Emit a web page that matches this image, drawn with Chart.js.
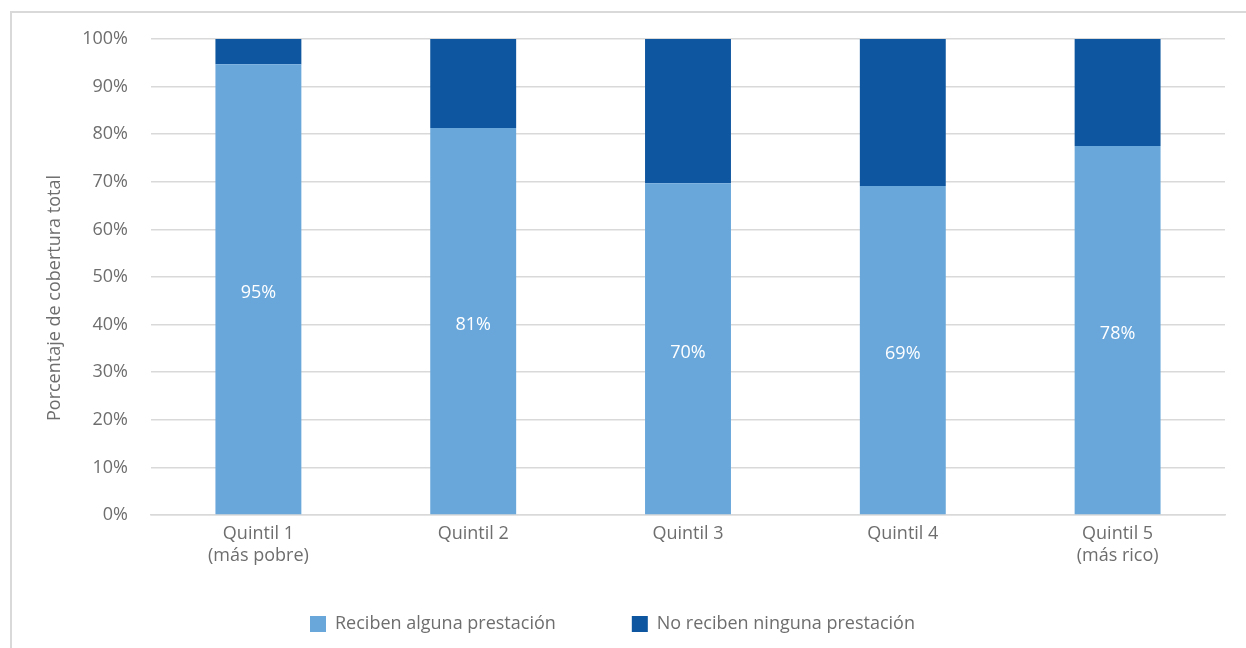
<!DOCTYPE html>
<html>
<head>
<meta charset="utf-8">
<script src="https://cdn.jsdelivr.net/npm/chart.js@4"></script>
<style>
  html, body { margin: 0; padding: 0; background: #fff; }
  #wrap { width: 1246px; height: 648px; position: relative; }
</style>
</head>
<body>
<div id="wrap"><canvas id="c" width="1246" height="648"></canvas></div>
<script>
// data
var categories = [['Quintil 1', '(más pobre)'], 'Quintil 2', 'Quintil 3', 'Quintil 4', ['Quintil 5', '(más rico)']];
var reciben = [94.7, 81.3, 69.7, 69.1, 77.5];
var reciben_labels = ['95%', '81%', '70%', '69%', '78%'];
var noReciben = reciben.map(function(v) { return 100 - v; });

var FONT = "'Open Sans', 'DejaVu Sans', sans-serif";
var GRAY = '#6e6e6e';
var FS = 18;
var LEGEND_GAP = 76;

// light gray frame round the whole chart
var framePlugin = {
    id: 'frame',
    beforeDraw: function(chart) {
        var ctx = chart.ctx;
        ctx.save();
        ctx.fillStyle = '#fff';
        ctx.fillRect(0, 0, chart.width, chart.height);
        ctx.strokeStyle = '#d9d9d9';
        ctx.lineWidth = 2;
        ctx.strokeRect(11, 12, chart.width + 20, chart.height + 20);
        ctx.restore();
    }
};

// legend keeps a small layout box but its items sit wide apart,
// so stretch the box upwards after layout (draw is clipped to it)
var legendPlugin = {
    id: 'legendBox',
    afterLayout: function(chart) {
        var lg = chart.legend;
        if (!lg) return;
        lg.top = 624 - LEGEND_GAP - FS / 2;
        lg.height = lg.bottom - lg.top;
        lg.left -= 22;
        lg.right -= 22;
    }
};

// white value labels in the middle of the light bars
var labelPlugin = {
    id: 'barLabels',
    afterDatasetsDraw: function(chart) {
        var ctx = chart.ctx;
        var meta = chart.getDatasetMeta(0);
        ctx.save();
        ctx.fillStyle = '#fff';
        ctx.font = FS + 'px ' + FONT;
        ctx.textAlign = 'center';
        ctx.textBaseline = 'middle';
        meta.data.forEach(function(bar, i) {
            var mid = (bar.y + bar.base) / 2;
            ctx.fillText(reciben_labels[i], bar.x, mid + 4);
        });
        ctx.restore();
    }
};

new Chart(document.getElementById('c'), {
    type: 'bar',
    data: {
        labels: categories,
        datasets: [
            { label: 'Reciben alguna prestación', data: reciben, backgroundColor: '#69a7db' },
            { label: 'No reciben ninguna prestación', data: noReciben, backgroundColor: '#0e569f' }
        ]
    },
    options: {
        responsive: false,
        animation: false,
        layout: { padding: { left: 44, right: 21, top: 39, bottom: 0 } },
        datasets: { bar: { categoryPercentage: 0.8, barPercentage: 0.5 } },
        scales: {
            x: {
                stacked: true,
                grid: { display: false, drawTicks: false },
                border: { color: '#d9d9d9', width: 1.5 },
                ticks: { color: GRAY, font: { family: FONT, size: FS }, padding: 8, maxRotation: 0 },
                afterFit: function(scale) { scale.height = 89; }
            },
            y: {
                stacked: true,
                min: 0, max: 100,
                ticks: {
                    stepSize: 10, color: GRAY, padding: 23,
                    font: { family: FONT, size: FS },
                    callback: function(v) { return v + '%'; }
                },
                grid: { color: '#d9d9d9', lineWidth: 1.5, drawTicks: false },
                border: { display: false },
                title: {
                    display: true,
                    // trailing spaces push the rotated title a little lower, as in the original
                    text: 'Porcentaje de cobertura total         ',
                    color: GRAY, font: { family: FONT, size: FS }, padding: 0
                },
                afterFit: function(scale) { scale.width = 107; }
            }
        },
        plugins: {
            legend: {
                position: 'bottom',
                maxHeight: 44,
                labels: {
                    color: GRAY, font: { family: FONT, size: FS },
                    boxWidth: 16, boxHeight: 16, padding: LEGEND_GAP
                }
            },
            tooltip: { enabled: false }
        }
    },
    plugins: [framePlugin, legendPlugin, labelPlugin]
});
</script>
</body>
</html>
